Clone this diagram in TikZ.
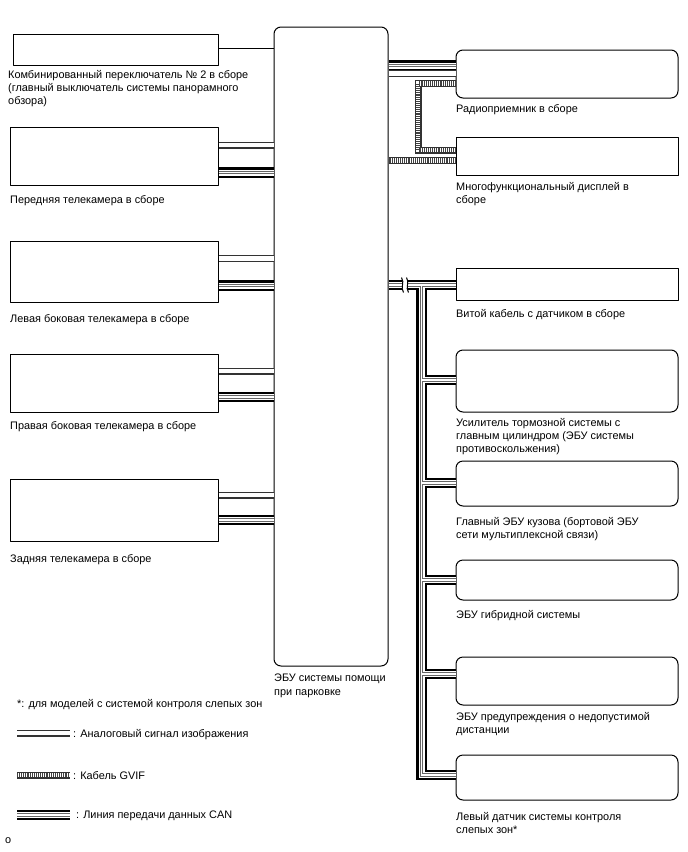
\documentclass[tikz,border=0pt]{standalone}
\usepackage{fontspec}
\setmainfont{Liberation Sans}
\usetikzlibrary{calc}
\tikzset{
  every picture/.style={line join=round, line cap=butt},
  blk/.style={draw, line width=1pt, inner sep=0pt},
  rblk/.style={blk, rounded corners=7pt},
  lbl/.style={anchor=north west, inner sep=0pt, align=left, font=\fontsize{10.9}{13.3}\selectfont},
  single/.style={line width=1pt},
  analog/.style={draw=black!80, line width=7pt, postaction={draw=white, line width=4.8pt}},
  gvif/.style={draw=black!80, line width=7pt, line join=miter,
    postaction={draw=white, line width=4.8pt},
    postaction={draw=black!75, line width=4.8pt, dash pattern=on 0.8pt off 1.1pt}},
  can/.style={draw=black, line width=10.5pt, line join=miter,
    postaction={draw=white, line width=6pt},
    postaction={draw=black!60, line width=3.4pt},
    postaction={draw=white, line width=1.6pt}},
}

\begin{document}
\begin{tikzpicture}[x=1pt,y=-1pt]
\useasboundingbox(0,0)rectangle(688,852);
% ECU
\node[rblk,minimum width=114pt,minimum height=639pt](ecu)at(331,346.5){};
% left side
\node[blk,minimum width=205pt,minimum height=31pt](sw)at(115.5,49.5){};
\node[blk,minimum width=208pt,minimum height=58pt](front)at(114,156){};
\node[blk,minimum width=208pt,minimum height=61pt](lcam)at(114,271.5){};
\node[blk,minimum width=208pt,minimum height=58pt](rcam)at(114,383){};
\node[blk,minimum width=208pt,minimum height=62pt](rear)at(114,510){};
% right side
\node[rblk,minimum width=222pt,minimum height=48pt](radio)at(567,74){};
\node[blk,minimum width=222pt,minimum height=38pt](mfd)at(567,156){};
\node[blk,minimum width=222pt,minimum height=32pt](spiral)at(567,284){};
\node[rblk,minimum width=222pt,minimum height=62pt](brake)at(567,381){};
\node[rblk,minimum width=222pt,minimum height=45pt](body)at(567,483.5){};
\node[rblk,minimum width=222pt,minimum height=40pt](hybrid)at(567,580){};
\node[rblk,minimum width=222pt,minimum height=48pt](clear)at(567,681){};
\node[rblk,minimum width=222pt,minimum height=45pt](bsm)at(567,777.5){};

% left connectors
\draw[single](sw.east|-0,48)--(ecu.west|-0,48);
\draw[analog](front.east|-0,145)--(ecu.west|-0,145);
\draw[can](front.east|-0,172.5)--(ecu.west|-0,172.5);
\draw[analog](lcam.east|-0,258.5)--(ecu.west|-0,258.5);
\draw[can](lcam.east|-0,285.5)--(ecu.west|-0,285.5);
\draw[analog](rcam.east|-0,371)--(ecu.west|-0,371);
\draw[can](rcam.east|-0,397)--(ecu.west|-0,397);
\draw[analog](rear.east|-0,495)--(ecu.west|-0,495);
\draw[can](rear.east|-0,520)--(ecu.west|-0,520);

% right connectors
\draw[can](ecu.east|-0,65.5)--(radio.west|-0,65.5);
\draw[analog](ecu.east|-0,73.5)--(radio.west|-0,73.5);
\draw[gvif](radio.west|-0,83.5)-|(418,150)--(mfd.west|-0,150);
\draw[gvif](ecu.east|-0,160.5)--(mfd.west|-0,160.5);

% CAN bus
\coordinate(trunk)at(421.5,285);
\draw[can](ecu.east|-trunk)--(spiral.west|-trunk)
  (trunk)|-(bsm.west|-0,775)
  (trunk|-0,380)--(brake.west|-0,380)
  (trunk|-0,483)--(body.west|-0,483)
  (trunk|-0,580)--(hybrid.west|-0,580)
  (trunk|-0,674)--(clear.west|-0,674);
\fill[white](402.3,277)rectangle(407.3,293);
\draw[single](403.5,292.5)..controls(400,287)and(405,283)..(401.5,277.5)
  (408.5,292.5)..controls(405,287)and(410,283)..(406.5,277.5);

% labels
\node[lbl](swl)at(8,70){Комбинированный переключатель № 2 в сборе\\(главный выключатель системы панорамного\\обзора)};
\node[lbl](frontl)at(10,195){Передняя телекамера в сборе};
\node[lbl](lcaml)at(10,314){Левая боковая телекамера в сборе};
\node[lbl](rcaml)at(10,421){Правая боковая телекамера в сборе};
\node[lbl](rearl)at(10,554){Задняя телекамера в сборе};
\node[lbl](ecul)at(274,674){ЭБУ системы помощи\\при парковке};
\node[lbl](radiol)at(456,104){Радиоприемник в сборе};
\node[lbl](mfdl)at(456,182){Многофункциональный дисплей в\\сборе};
\node[lbl](spirall)at(456,309){Витой кабель с датчиком в сборе};
\node[lbl](brakel)at(456,418){Усилитель тормозной системы с\\главным цилиндром (ЭБУ системы\\противоскольжения)};
\node[lbl](bodyl)at(456,517){Главный ЭБУ кузова (бортовой ЭБУ\\сети мультиплексной связи)};
\node[lbl](hybridl)at(456,610){ЭБУ гибридной системы};
\node[lbl](clearl)at(456,712){ЭБУ предупреждения о недопустимой\\дистанции};
\node[lbl](bsml)at(456,812){Левый датчик системы контроля\\слепых зон*};

% legend
\node[lbl](note)at(17,699){*: для моделей с системой контроля слепых зон};
\draw[analog](17,733)--(70,733);
\node[lbl](anal)at(73,729){: Аналоговый сигнал изображения};
\draw[gvif](17,775)--(70,775);
\node[lbl](gvifl)at(73,771){: Кабель GVIF};
\draw[can](17,815)--(70,815);
\node[lbl](canl)at(76,811){: Линия передачи данных CAN};
\node[lbl](code)at(5,837){o};
\end{tikzpicture}
\end{document}
